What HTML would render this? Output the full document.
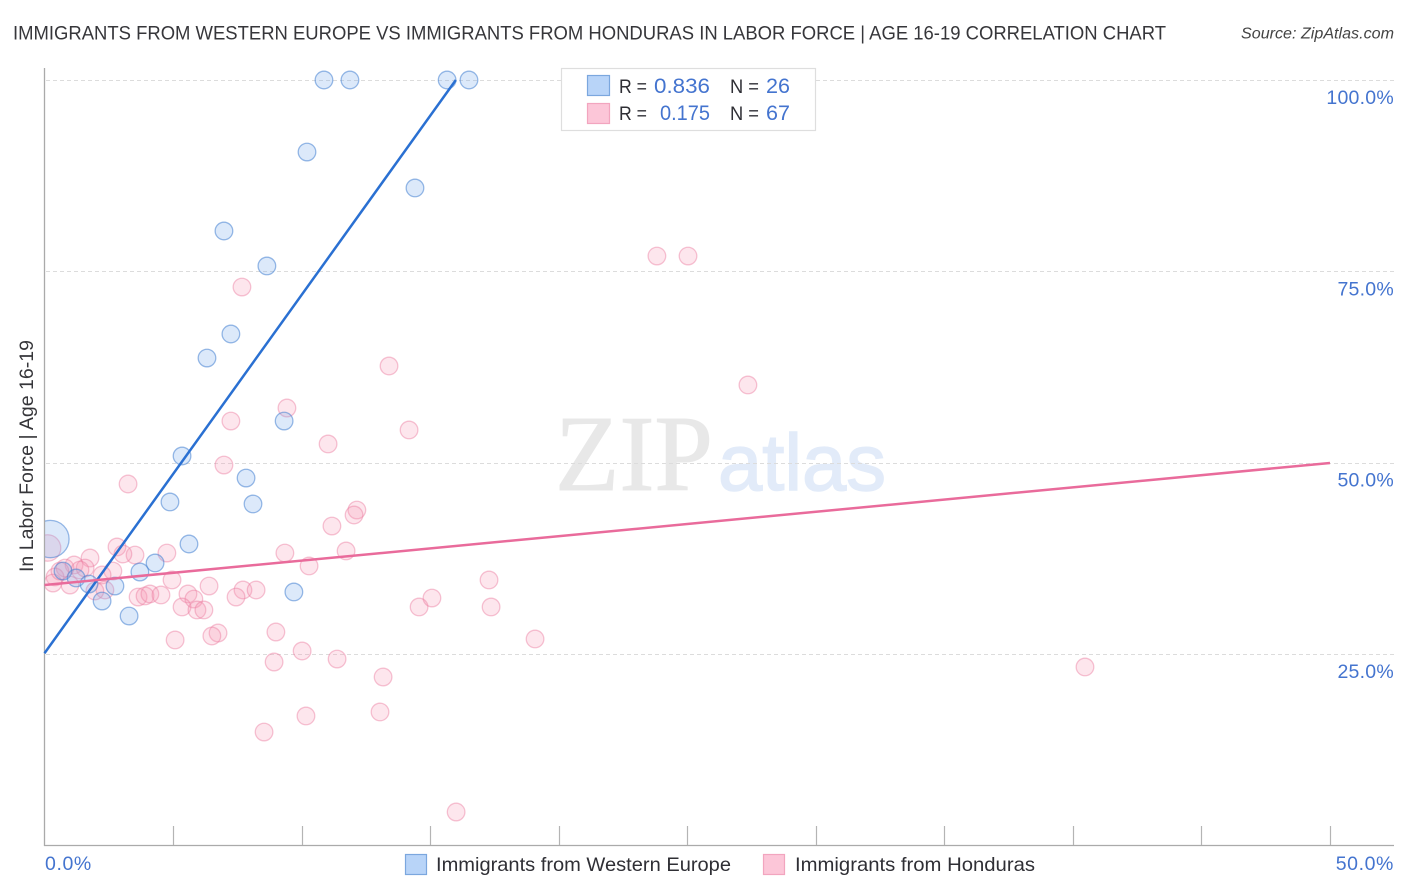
<!DOCTYPE html>
<html lang="en">
<head>
<meta charset="utf-8">
<title>Correlation chart</title>
<style>
html,body{margin:0;padding:0;background:#fff;}
svg{display:block;font-family:"Liberation Sans",sans-serif;}
</style>
</head>
<body>
<svg id="chart" width="1406" height="892" viewBox="0 0 1406 892" xmlns="http://www.w3.org/2000/svg">
  <defs>
    <clipPath id="plot-clip"><rect x="45" y="0" width="1361" height="892"/></clipPath>
  </defs>
  <text x="13" y="39.5" font-size="19.5" fill="#36363a" textLength="1153" lengthAdjust="spacingAndGlyphs">IMMIGRANTS FROM WESTERN EUROPE VS IMMIGRANTS FROM HONDURAS IN LABOR FORCE | AGE 16-19 CORRELATION CHART</text>
  <text x="1394" y="38.5" font-size="15.5" font-style="italic" fill="#444" text-anchor="end" textLength="153" lengthAdjust="spacingAndGlyphs">Source: ZipAtlas.com</text>

  <g>
    <text x="555" y="490" font-family="'Liberation Serif',serif" font-size="108" fill="#e8e8e8" stroke="#e8e8e8" stroke-width="1" textLength="158" lengthAdjust="spacingAndGlyphs">ZIP</text>
    <text x="718" y="490" font-size="80" fill="#e2ebf9" stroke="#e2ebf9" stroke-width="1.5" textLength="168" lengthAdjust="spacingAndGlyphs">atlas</text>
  </g>

  <g id="grid"></g>
  <g id="axes"></g>
  <g id="y-labels"></g>
  <g id="x-labels"></g>
  <g id="points" clip-path="url(#plot-clip)"></g>
  <g id="lines"></g>

  <text transform="translate(33,572) rotate(-90)" font-size="19" fill="#36363a" textLength="232" lengthAdjust="spacingAndGlyphs">In Labor Force | Age 16-19</text>

  <g>
    <rect x="561.5" y="68.5" width="254" height="62" fill="#fff" stroke="#dedede" stroke-width="1.2"/>
    <rect x="587.5" y="75.5" width="22" height="20" fill="#b8d4f8" stroke="#7ba7de" stroke-width="1.2"/>
    <rect x="587.5" y="103.5" width="22" height="20" fill="#fcc6d8" stroke="#f2a5bf" stroke-width="1.2"/>
    <text x="619" y="93" font-size="19.5" fill="#2f2f35" textLength="28" lengthAdjust="spacingAndGlyphs">R =</text>
    <text x="654" y="93" font-size="21.5" fill="#4474cf" textLength="56" lengthAdjust="spacingAndGlyphs">0.836</text>
    <text x="730" y="93" font-size="19.5" fill="#2f2f35" textLength="29" lengthAdjust="spacingAndGlyphs">N =</text>
    <text x="766" y="93" font-size="21.5" fill="#4474cf" textLength="24" lengthAdjust="spacingAndGlyphs">26</text>
    <text x="619" y="120" font-size="19.5" fill="#2f2f35" textLength="28" lengthAdjust="spacingAndGlyphs">R =</text>
    <text x="660" y="120" font-size="21.5" fill="#4474cf" textLength="50" lengthAdjust="spacingAndGlyphs">0.175</text>
    <text x="730" y="120" font-size="19.5" fill="#2f2f35" textLength="29" lengthAdjust="spacingAndGlyphs">N =</text>
    <text x="766" y="120" font-size="21.5" fill="#4474cf" textLength="24" lengthAdjust="spacingAndGlyphs">67</text>
  </g>

  <g>
    <rect x="405.5" y="854.5" width="21" height="20" fill="#b8d4f8" stroke="#7ba7de" stroke-width="1.2"/>
    <text x="436" y="871" font-size="19.5" fill="#2f2f35" textLength="295" lengthAdjust="spacingAndGlyphs">Immigrants from Western Europe</text>
    <rect x="763.5" y="854.5" width="21" height="20" fill="#fcc6d8" stroke="#f2a5bf" stroke-width="1.2"/>
    <text x="795" y="871" font-size="19.5" fill="#2f2f35" textLength="240" lengthAdjust="spacingAndGlyphs">Immigrants from Honduras</text>
  </g>
</svg>
<script>
const xTicks = [0, 5, 10, 15, 20, 25, 30, 35, 40, 45, 50];
const yTicks = [100, 75, 50, 25];
const yTickLabels = ["100.0%", "75.0%", "50.0%", "25.0%"];
const xEndValues = [0, 50];
const xEndLabels = ["0.0%", "50.0%"];

const blueX = [10.87,11.88,15.66,16.51,10.21,14.41,6.98,8.65,7.25,6.32,9.32,5.35,7.84,4.88,8.11,5.62,0.23,4.30,3.71,0.72,1.23,1.73,2.74,2.24,3.29,9.70];
const blueY = [100,100,100,100,90.59,85.89,80.27,75.70,66.81,63.67,55.44,50.87,47.99,44.86,44.60,39.37,40.02,36.89,35.71,35.84,34.93,34.14,33.88,31.92,29.96,33.10];
const blueWeight = [1,1,1,1,1,1,1,1,1,1,1,1,1,1,1,1,4.5,1,1,1,1,1,1,1,1,1];

const pinkX = [7.68,23.82,25.03,13.40,27.36,9.43,7.25,14.18,11.03,6.98,3.25,12.15,12.04,11.18,2.82,11.73,4.76,3.52,3.05,9.35,1.77,1.15,0.80,1.58,1.38,10.29,2.66,2.24,0.41,0.33,0.99,4.96,17.29,2.35,1.96,6.40,7.72,8.23,7.45,3.64,3.91,4.10,4.53,5.58,5.81,5.35,5.93,6.20,14.57,15.07,17.37,6.75,6.51,5.08,9.00,19.08,10.02,11.38,8.93,13.17,40.47,13.05,10.17,8.54,16.01,0.12,0.60];
const pinkY = [72.95,77.00,77.00,62.63,60.15,57.14,55.44,54.27,52.44,49.69,47.21,43.81,43.16,41.72,38.98,38.46,38.19,37.93,38.06,38.19,37.54,36.63,36.23,36.23,35.97,36.50,35.84,35.32,35.06,34.27,34.01,34.67,34.67,33.36,33.23,33.88,33.36,33.36,32.44,32.44,32.58,32.84,32.71,32.84,32.18,31.14,30.75,30.75,31.14,32.31,31.14,27.74,27.35,26.83,27.87,26.96,25.39,24.34,23.95,21.99,23.30,17.42,16.90,14.80,4.35,38.85,35.84];
const pinkWeight = [1,1,1,1,1,1,1,1,1,1,1,1,1,1,1,1,1,1,1,1,1,1,1,1,1,1,1,1,1,1,1,1,1,1,1,1,1,1,1,1,1,1,1,1,1,1,1,1,1,1,1,1,1,1,1,1,1,1,1,1,1,1,1,1,1,2.25,1];

const blueTrendX = [0, 16.0];
const blueTrendY = [25.1, 100];
const pinkTrendX = [0, 50];
const pinkTrendY = [34.01, 49.96];

const SVG_NS = "http://www.w3.org/2000/svg";
function xScale(v) { return 44.5 + v * 25.71; }
function yScale(v) { return 80 + (100 - v) * 7.653; }
function rScale(w) { return 8.8 * Math.sqrt(w); }
function make(tag, attrs, parent) {
  const el = document.createElementNS(SVG_NS, tag);
  Object.keys(attrs).forEach(function (k) { el.setAttribute(k, attrs[k]); });
  parent.appendChild(el);
  return el;
}

const gridG = document.getElementById("grid");
const axesG = document.getElementById("axes");
const yLabelG = document.getElementById("y-labels");
const xLabelG = document.getElementById("x-labels");
const pointsG = document.getElementById("points");
const linesG = document.getElementById("lines");

yTicks.forEach(function (t, i) {
  const y = Math.round(yScale(t)) + 0.5;
  const g = make("line", {x1: 46, x2: 1394, y1: y, y2: y, stroke: "#dcdcdc", "stroke-width": 1, "stroke-dasharray": "4 3"}, gridG);
  
  
  const lab = make("text", {x: 1394, y: yScale(t) + 24, "font-size": 19.5, "letter-spacing": 0.25, fill: "#4474cf", "text-anchor": "end"}, yLabelG);
  lab.textContent = yTickLabels[i];
  
  
});

const yAxis = make("line", {x1: 44.5, x2: 44.5, y1: 68, y2: 846, stroke: "#aaaaaa", "stroke-width": 1.3}, axesG);


const xAxis = make("line", {x1: 44, x2: 1394, y1: 845.5, y2: 845.5, stroke: "#aaaaaa", "stroke-width": 1.3}, axesG);



xTicks.forEach(function (t) {
  if (t === 0) return;
  const x = Math.round(xScale(t)) + 0.5;
  const tk = make("line", {x1: x, x2: x, y1: 826, y2: 845, stroke: "#b4b4b4", "stroke-width": 1.2}, axesG);
  
  
});

xEndValues.forEach(function (v, i) {
  const lab = make("text", {x: i === 0 ? xScale(v) + 0.5 : 1394, y: 870, "font-size": 19.5, "letter-spacing": 0.6, fill: "#4474cf", "text-anchor": i === 0 ? "start" : "end"}, xLabelG);
  lab.textContent = xEndLabels[i];
  
  
});

pinkX.forEach(function (v, i) {
  const c = make("circle", {cx: xScale(v), cy: yScale(pinkY[i]), r: rScale(pinkWeight[i]), fill: "rgba(248,150,178,0.24)", stroke: "rgba(235,125,160,0.45)", "stroke-width": 1.3}, pointsG);
  
  
});
blueX.forEach(function (v, i) {
  const c = make("circle", {cx: xScale(v), cy: yScale(blueY[i]), r: rScale(blueWeight[i]), fill: "rgba(120,170,235,0.26)", stroke: "rgba(70,130,210,0.55)", "stroke-width": 1.3}, pointsG);
  
  
});

const blueLine = make("line", {x1: xScale(blueTrendX[0]), y1: yScale(blueTrendY[0]), x2: xScale(blueTrendX[1]), y2: yScale(blueTrendY[1]), stroke: "#2a70d2", "stroke-width": 2.5}, linesG);


const pinkLine = make("line", {x1: xScale(pinkTrendX[0]), y1: yScale(pinkTrendY[0]), x2: xScale(pinkTrendX[1]), y2: yScale(pinkTrendY[1]), stroke: "#e96b9b", "stroke-width": 2.5}, linesG);


</script>
</body>
</html>
